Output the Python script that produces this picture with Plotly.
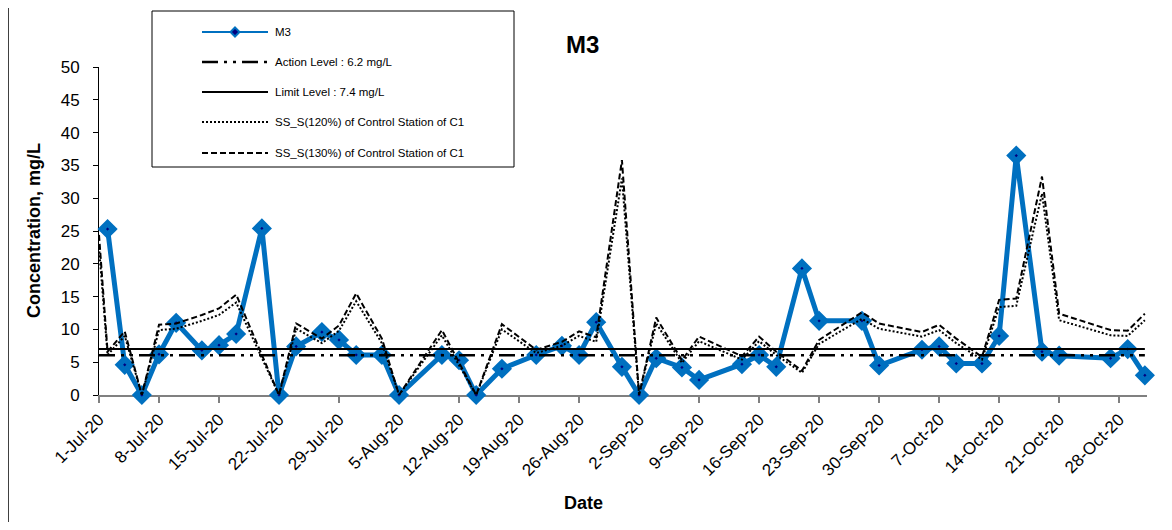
import plotly.graph_objects as go

# ---------------- data ----------------
dates = [
    "2020-07-01", "2020-07-02", "2020-07-04", "2020-07-06", "2020-07-08", "2020-07-10",
    "2020-07-13", "2020-07-15", "2020-07-17", "2020-07-20", "2020-07-22", "2020-07-24",
    "2020-07-27", "2020-07-29", "2020-07-31", "2020-08-03", "2020-08-05", "2020-08-10",
    "2020-08-12", "2020-08-14", "2020-08-17", "2020-08-21", "2020-08-24", "2020-08-26",
    "2020-08-28", "2020-08-31", "2020-09-02", "2020-09-04", "2020-09-07", "2020-09-09",
    "2020-09-14", "2020-09-16", "2020-09-18", "2020-09-21", "2020-09-23", "2020-09-28",
    "2020-09-30", "2020-10-05", "2020-10-07", "2020-10-09", "2020-10-12", "2020-10-14",
    "2020-10-16", "2020-10-19", "2020-10-21", "2020-10-27", "2020-10-29", "2020-10-31",
]

m3 = [
    None, 25.3, 4.6, 0.0, 6.2, 11.0,
    6.8, 7.6, 9.3, 25.4, 0.0, 7.4,
    9.6, 8.4, 6.1, 6.1, 0.0, 6.1,
    5.3, 0.0, 4.0, 6.1, 7.5, 6.1,
    11.1, 4.3, 0.0, 5.6, 4.2, 2.3,
    4.7, 6.1, 4.3, 19.3, 11.3, 11.3,
    4.5, 6.9, 7.4, 4.8, 4.8, 9.0,
    36.5, 6.6, 6.0, 5.6, 7.0, 3.0,
]

ss_120 = [
    22.5, 6.1, 9.0, 0.0, 9.9, 10.1,
    11.3, 12.2, 14.1, 5.5, 0.0, 10.1,
    7.9, 9.8, 14.3, 7.9, 0.0, 9.1,
    4.6, 0.0, 10.0, 6.4, 7.5, 9.0,
    8.1, 33.0, 0.0, 10.9, 4.9, 8.2,
    5.4, 8.2, 6.1, 3.4, 7.8, 11.6,
    10.1, 8.9, 9.9, 7.9, 5.4, 13.4,
    13.6, 30.7, 11.4, 9.1, 9.0, 11.4,
]

ss_130 = [
    24.4, 6.6, 9.7, 0.0, 10.7, 10.9,
    12.2, 13.2, 15.3, 6.0, 0.0, 10.9,
    8.6, 10.6, 15.5, 8.6, 0.0, 9.9,
    5.0, 0.0, 10.8, 6.9, 8.1, 9.7,
    8.8, 35.8, 0.0, 11.8, 5.3, 8.9,
    5.9, 8.9, 6.6, 3.7, 8.4, 12.6,
    10.9, 9.6, 10.7, 8.6, 5.8, 14.5,
    14.7, 33.3, 12.4, 9.9, 9.8, 12.4,
]

action_level = 6.05
limit_level = 7.0

legend_names = [
    "M3",
    "Action Level : 6.2 mg/L",
    "Limit Level : 7.4 mg/L",
    "SS_S(120%) of Control Station of C1",
    "SS_S(130%) of Control Station of C1",
]

# ---------------- styles ----------------
BLUE = "#0070C0"
NAVY = "#000080"
FONT = "Liberation Sans, Arial, sans-serif"
DASH_ACTION = "16px,6px,3px,6px,3px,6px"
DASH_120 = "2px,2px"
DASH_130 = "6px,3px"

OFF = 8                      # page body margin
W, H = 1156, 514
ML, MT = 91, 59
PW, PH = 1048, 328
MR, MB = W - ML - PW, H - MT - PH
BOTTOM = OFF + MT + PH       # page y of plot bottom


def px(X):  # page x -> paper x
    return (X - OFF - ML) / PW


def py(Y):  # page y -> paper y
    return (BOTTOM - Y) / PH


fig = go.Figure()

fig.add_trace(go.Scatter(
    x=dates, y=m3, mode="lines+markers",
    line=dict(color=BLUE, width=5),
    marker=dict(symbol="diamond", size=9, color=NAVY, line=dict(color=BLUE, width=6)),
    cliponaxis=False, showlegend=False, name=legend_names[0],
))
fig.add_trace(go.Scatter(
    x=[dates[0], dates[-1]], y=[action_level, action_level], mode="lines",
    line=dict(color="black", width=2.5, dash=DASH_ACTION), showlegend=False,
    name=legend_names[1],
))
fig.add_trace(go.Scatter(
    x=[dates[0], dates[-1]], y=[limit_level, limit_level], mode="lines",
    line=dict(color="black", width=2), showlegend=False, name=legend_names[2],
))
fig.add_trace(go.Scatter(
    x=dates, y=ss_120, mode="lines",
    line=dict(color="black", width=2, dash=DASH_120), showlegend=False,
    name=legend_names[3],
))
fig.add_trace(go.Scatter(
    x=dates, y=ss_130, mode="lines",
    line=dict(color="black", width=2, dash=DASH_130), showlegend=False,
    name=legend_names[4],
))

shapes = []
annotations = []

# chart frame (left edge)
shapes.append(dict(type="line", xref="paper", yref="paper",
                   x0=px(8.5), x1=px(8.5), y0=py(OFF), y1=py(OFF + H),
                   line=dict(color="#404040", width=1)))

# manual legend box
shapes.append(dict(type="rect", xref="paper", yref="paper",
                   x0=px(152), x1=px(514), y0=py(167), y1=py(11),
                   line=dict(color="black", width=1), fillcolor="white", layer="above"))

leg_y = [32, 62, 92, 122, 153]
leg_styles = [
    dict(color=BLUE, width=2),
    dict(color="black", width=2.5, dash=DASH_ACTION),
    dict(color="black", width=2),
    dict(color="black", width=2, dash=DASH_120),
    dict(color="black", width=2, dash=DASH_130),
]
for name, yy, st in zip(legend_names, leg_y, leg_styles):
    shapes.append(dict(type="line", xref="paper", yref="paper",
                       x0=px(202), x1=px(268), y0=py(yy), y1=py(yy),
                       line=st, layer="above"))
    annotations.append(dict(xref="paper", yref="paper", x=px(273), y=py(yy),
                            xanchor="left", yanchor="middle", showarrow=False,
                            text=name, font=dict(family=FONT, size=11.5, color="black")))

# legend marker for M3
cx, cy, r = 235, leg_y[0], 4.5
shapes.append(dict(type="path", xref="paper", yref="paper",
                   path=(f"M {px(cx)},{py(cy - r)} L {px(cx + r)},{py(cy)} "
                         f"L {px(cx)},{py(cy + r)} L {px(cx - r)},{py(cy)} Z"),
                   fillcolor=NAVY, line=dict(color=BLUE, width=2), layer="above"))

# titles
annotations.append(dict(xref="paper", yref="paper", x=px(582), y=py(44),
                        xanchor="center", yanchor="middle", showarrow=False,
                        text="<b>M3</b>", font=dict(family=FONT, size=24, color="black")))
annotations.append(dict(xref="paper", yref="paper", x=px(34), y=py(231),
                        xanchor="center", yanchor="middle", showarrow=False, textangle=-90,
                        text="<b>Concentration, mg/L</b>",
                        font=dict(family=FONT, size=18, color="black")))
annotations.append(dict(xref="paper", yref="paper", x=px(583), y=py(503),
                        xanchor="center", yanchor="middle", showarrow=False,
                        text="<b>Date</b>", font=dict(family=FONT, size=18, color="black")))

fig.update_layout(
    width=W, height=H,
    margin=dict(l=ML, r=MR, t=MT, b=MB, pad=0),
    paper_bgcolor="white", plot_bgcolor="white",
    font=dict(family=FONT, size=17, color="black"),
    showlegend=False,
    shapes=shapes, annotations=annotations,
    xaxis=dict(
        type="date", range=["2020-07-01", "2020-10-31 06:00"],
        tick0="2020-07-01", dtick=7 * 86400000, tickformat="%-d-%b-%y",
        tickangle=-45, ticks="outside", ticklen=6, tickwidth=1.5, tickcolor="#808080",
        showline=True, linecolor="#808080", linewidth=2,
        showgrid=False, zeroline=False, layer="below traces",
        tickfont=dict(family=FONT, size=17, color="black"),
    ),
    yaxis=dict(
        range=[0, 50], tick0=0, dtick=5,
        ticks="outside", ticklen=5, tickwidth=1, tickcolor="black",
        showline=True, linecolor="black", linewidth=1,
        showgrid=False, zeroline=False, layer="below traces",
        ticklabelstandoff=10,
        tickfont=dict(family=FONT, size=17, color="black"),
    ),
)

fig.write_html("out.html")
